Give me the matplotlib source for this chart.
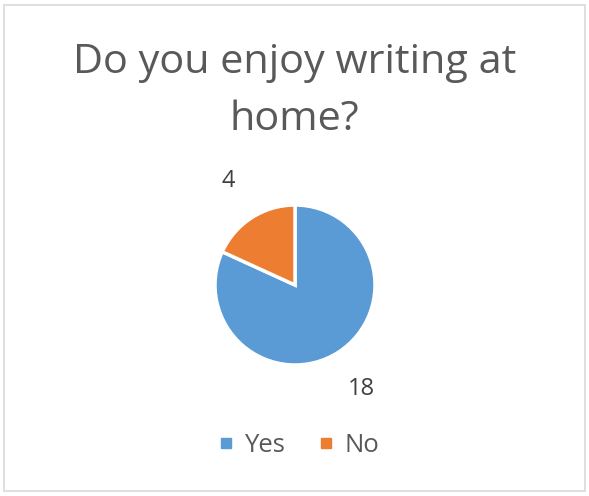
import matplotlib
matplotlib.use("Agg")
import matplotlib.pyplot as plt
from matplotlib.patches import Rectangle
from matplotlib.lines import Line2D

categories = ["Yes", "No"]
values = [18, 4]
colors = ["#5B9BD5", "#ED7D31"]
title = "Do you enjoy writing at\nhome?"

plt.rcParams['font.family'] = ['Open Sans', 'DejaVu Sans']

W, H = 589, 496
fig = plt.figure(figsize=(W/100, H/100), dpi=100)
fig.patch.set_facecolor("white")

# border
fig.patches.append(Rectangle((4/W, 5/H), 581/W, 486/H, transform=fig.transFigure,
                             fill=False, edgecolor="#D9D9D9", linewidth=1.2))

cx, cy = 295, H - 285
size = 240
ax = fig.add_axes([(cx - size/2)/W, (cy - size/2)/H, size/W, size/H])
wedges, texts = ax.pie(values, labels=[str(v) for v in values], colors=colors,
                       startangle=90, counterclock=False, labeldistance=1.54,
                       wedgeprops=dict(edgecolor="white", linewidth=2.5),
                       textprops=dict(fontsize=17, color="#404040"))
for t in texts:
    t.set_ha("center")
    t.set_va("center")
ax.set_xlim(-1.5, 1.5)
ax.set_ylim(-1.5, 1.5)
ax.set_aspect("equal")
ax.axis("off")

fig.text(0.5, 1 - 91/H, title, ha="center", va="center", fontsize=29.8,
         color="#595959", linespacing=1.55)

handles = [Line2D([0], [0], marker="s", linestyle="none", markersize=7,
                  markerfacecolor=c, markeredgecolor=c) for c in colors]
fig.legend(handles, categories, loc="center", bbox_to_anchor=(0.505, 1 - 445/H),
           ncol=2, frameon=False, fontsize=18.5, labelcolor="#595959",
           handletextpad=0.3, columnspacing=1.2, handlelength=0.8)

fig.savefig("out.png", dpi=100)
